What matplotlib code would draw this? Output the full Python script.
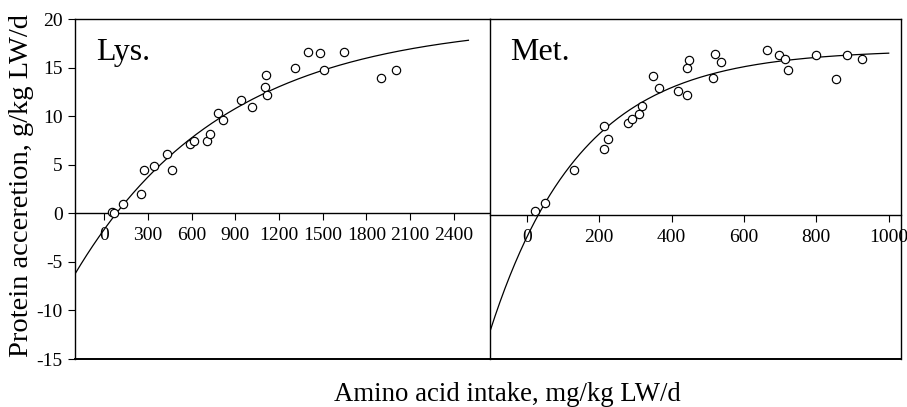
import numpy as np
import matplotlib
matplotlib.use("Agg")
import matplotlib.pyplot as plt

plt.rcParams['font.family'] = ['Liberation Serif', 'DejaVu Serif']
plt.rcParams['axes.unicode_minus'] = False

# ---- data ----
lys_x = [51, 69, 126, 254, 270, 341, 428, 463, 588, 614, 703, 726, 778, 813,
         936, 1012, 1103, 1112, 1117, 1309, 1401, 1481, 1508, 1648, 1897, 2003]
lys_y = [0.1, 0.0, 1.0, 2.0, 4.5, 4.9, 6.1, 4.5, 7.1, 7.4, 7.4, 8.2, 10.3, 9.6,
         11.7, 10.9, 13.0, 14.2, 12.2, 15.0, 16.6, 16.5, 14.7, 16.6, 13.9, 14.8]

met_x = [22, 50, 131, 213, 213, 224, 279, 291, 311, 317, 349, 365, 417, 442,
         443, 448, 514, 521, 537, 663, 696, 712, 723, 800, 854, 884, 925]
met_y = [0.45, 1.2, 4.65, 9.3, 6.9, 7.9, 9.55, 9.95, 10.5, 11.3, 14.45, 13.2,
         12.9, 12.5, 15.3, 16.1, 14.3, 16.8, 15.9, 17.2, 16.6, 16.25, 15.1,
         16.7, 14.2, 16.7, 16.25]

# fitted response curves: y = A - B * exp(-k x)
lys_fit = dict(A=19.7, B=21.35, k=0.00097, xmax=2500)
met_fit = dict(A=17.2, B=19.5, k=0.004, xmax=1000)

lys_ticks = [0, 300, 600, 900, 1200, 1500, 1800, 2100, 2400]
met_ticks = [0, 200, 400, 600, 800, 1000]
y_ticks = [-15, -10, -5, 0, 5, 10, 15, 20]

panel_labels = ["Lys.", "Met."]
x_title = "Amino acid intake, mg/kg LW/d"
y_title = "Protein acceretion, g/kg LW/d"

# ---- figure ----
fig = plt.figure(figsize=(9.07, 4.07), dpi=100)
W, H = 907, 407

def ax_rect(x0, x1, y0, y1):
    return [x0 / W, 1 - y1 / H, (x1 - x0) / W, (y1 - y0) / H]

axL = fig.add_axes(ax_rect(75, 490, 19, 359))
axR = fig.add_axes(ax_rect(490, 901, 19, 359))

configs = [
    (axL, lys_x, lys_y, lys_fit, lys_ticks, (-201, 2648), (-15, 20), panel_labels[0]),
    (axR, met_x, met_y, met_fit, met_ticks, (-102, 1034), (-15, 20.4), panel_labels[1]),
]

for ax, xs, ys, fit, ticks, xl, yl, lab in configs:
    ax.set_xlim(*xl)
    ax.set_ylim(*yl)
    xc = np.linspace(xl[0], fit['xmax'], 400)
    yc = fit['A'] - fit['B'] * np.exp(-fit['k'] * xc)
    ax.plot(xc, yc, color='black', lw=0.9)
    ax.plot(xs, ys, linestyle='none', marker='o', ms=6, mfc='white',
            mec='black', mew=0.85, zorder=3)
    ax.spines['bottom'].set_position(('data', 0))
    for s in ax.spines.values():
        s.set_linewidth(1.0)
    ax.axhline(yl[0], color='black', lw=1.4, clip_on=False)
    ax.set_xticks(ticks)
    ax.set_xticklabels([str(t) for t in ticks])
    ax.tick_params(axis='x', direction='out', length=5, width=0.8,
                   labelsize=14, pad=5)
    ax.text(0.05, 0.945, lab, transform=ax.transAxes, fontsize=23,
            ha='left', va='top')

axL.spines['right'].set_visible(False)
axL.set_yticks(y_ticks)
axL.set_yticklabels([str(t) for t in y_ticks])
axL.tick_params(axis='y', direction='out', length=5, width=0.8,
                labelsize=14, pad=4)

axR.tick_params(axis='y', left=False, labelleft=False)

fig.text(0.0232, 0.545, y_title, rotation=90, fontsize=20.5,
         ha='center', va='center')
fig.text(507 / W, 1 - 401 / H, x_title, fontsize=19.3,
         ha='center', va='baseline')

fig.savefig("out.png", dpi=100)
